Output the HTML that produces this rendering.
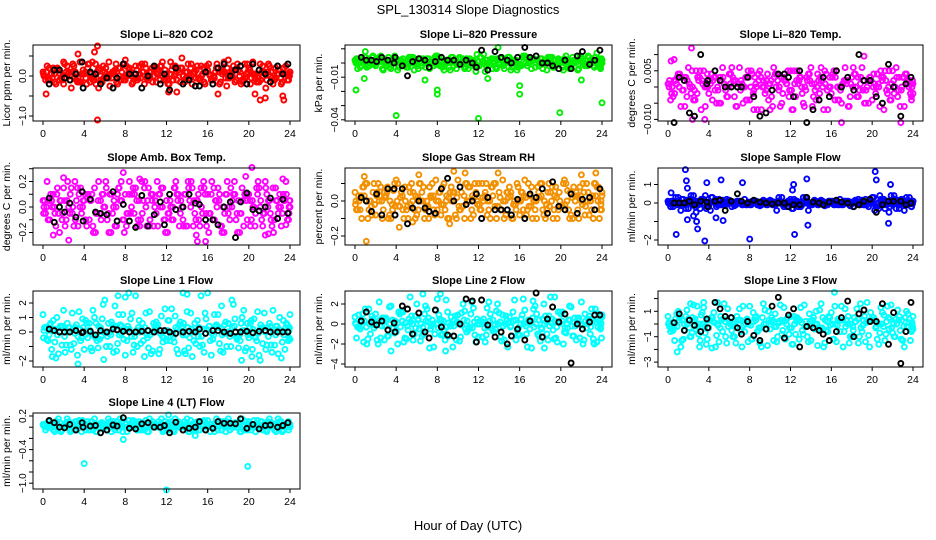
<!DOCTYPE html>
<html><head><meta charset="utf-8">
<style>
html,body{margin:0;padding:0;background:#fff;}
svg{display:block;font-family:"Liberation Sans",Arial,sans-serif;}
</style></head>
<body>
<svg id="chart" width="936" height="540" viewBox="0 0 936 540" xmlns="http://www.w3.org/2000/svg">
<rect width="936" height="540" fill="#fff"/>
<text x="468" y="14" text-anchor="middle" font-size="13">SPL_130314  Slope Diagnostics</text>
<text x="468" y="530" text-anchor="middle" font-size="13">Hour of Day (UTC)</text>
<g id="panels"></g>
</svg>
<script>
// shared hour arrays
const hoursA=[0,0.5,1,1.5,2,2.5,3,3.5,4,4.5,5,5.5,6,6.5,7,7.5,8,8.5,9,9.5,10,10.5,11,11.5,12,12.5,13,13.5,14,14.5,15,15.5,16,16.5,17,17.5,18,18.5,19,19.5,20,20.5,21,21.5,22,22.5,23,23.5,24];
const hoursB=[0.25,0.75,1.25,1.75,2.25,2.75,3.25,3.75,4.25,4.75,5.25,5.75,6.25,6.75,7.25,7.75,8.25,8.75,9.25,9.75,10.25,10.75,11.25,11.75,12.25,12.75,13.25,13.75,14.25,14.75,15.25,15.75,16.25,16.75,17.25,17.75,18.25,18.75,19.25,19.75,20.25,20.75,21.25,21.75,22.25,22.75,23.25,23.75,23.95];
const hoursC=[0.1,0.6,1.1,1.6,2.1,2.6,3.1,3.6,4.1,4.6,5.1,5.6,6.1,6.6,7.1,7.6,8.1,8.6,9.1,9.6,10.1,10.6,11.1,11.6,12.1,12.6,13.1,13.6,14.1,14.6,15.1,15.6,16.1,16.6,17.1,17.6,18.1,18.6,19.1,19.6,20.1,20.6,21.1,21.6,22.1,22.6,23.1,23.6,23.9];
const hoursD=[0.35,0.85,1.35,1.85,2.35,2.85,3.35,3.85,4.35,4.85,5.35,5.85,6.35,6.85,7.35,7.85,8.35,8.85,9.35,9.85,10.35,10.85,11.35,11.85,12.35,12.85,13.35,13.85,14.35,14.85,15.35,15.85,16.35,16.85,17.35,17.85,18.35,18.85,19.35,19.85,20.35,20.85,21.35,21.85,22.35,22.85,23.35,23.85,24];
const hoursE=[0.15,0.65,1.15,1.65,2.15,2.65,3.15,3.65,4.15,4.65,5.15,5.65,6.15,6.65,7.15,7.65,8.15,8.65,9.15,9.65,10.15,10.65,11.15,11.65,12.15,12.65,13.15,13.65,14.15,14.65,15.15,15.65,16.15,16.65,17.15,17.65,18.15,18.65,19.15,19.65,20.15,20.65,21.15,21.65,22.15,22.65,23.15,23.65,23.85];
const hoursF=[0.05,0.4,0.9,1.4,1.9,2.4,2.9,3.4,3.9,4.4,4.9,5.4,5.9,6.4,6.9,7.4,7.9,8.4,8.9,9.4,9.9,10.4,10.9,11.4,11.9,12.4,12.9,13.4,13.9,14.4,14.9,15.4,15.9,16.4,16.9,17.4,17.9,18.4,18.9,19.4,19.9,20.4,20.9,21.4,21.9,22.4,22.9,23.4,23.9];
const blackHours=[0.6,1.1,1.6,2.1,2.6,3.2,3.8,3.9,4.6,5.1,5.6,6.2,6.8,7.2,7.8,8.4,9.0,9.6,10.2,10.8,11.4,11.8,12.3,12.9,13.6,14.2,14.8,15.2,15.8,16.5,17.0,17.6,18.2,18.7,19.2,19.8,20.4,21.0,21.6,22.1,22.8,23.3,23.8];
const xTicks=[0,4,8,12,16,20,24];

// Panel 1 CO2
const co2A=[0.1,-0.1,0.2,0.15,-0.2,0.1,0.25,-0.15,0.05,0.3,-0.1,0.2,0.1,-0.25,0.15,0.2,-0.1,0.1,0.25,-0.05,0.2,0.1,-0.15,0.25,0.05,0.15,-0.1,0.2,0.1,-0.2,0.25,0.05,0.15,-0.1,0.2,0.1,-0.05,0.25,0.15,-0.1,0.2,0.05,-0.15,0.1,0.25,-0.1,0.15,0.05,0.1];
const co2B=[-0.1,0.05,-0.2,-0.05,0.1,-0.3,-0.1,0.05,-0.2,-0.05,0.1,-0.15,0.0,0.1,-0.2,-0.05,0.05,-0.15,-0.05,0.1,-0.1,0.0,0.15,-0.1,-0.2,0.0,0.1,-0.15,-0.05,0.1,-0.1,-0.2,0.0,0.1,-0.15,-0.05,0.05,-0.1,-0.2,0.05,-0.05,-0.15,0.1,-0.1,-0.05,0.05,-0.15,-0.1,0.0];
const co2C=[0.0,0.2,0.05,-0.1,0.3,0.0,-0.05,0.35,0.1,-0.15,0.3,0.0,0.2,0.05,0.3,-0.1,0.25,0.0,0.15,0.3,-0.05,0.2,0.05,0.35,-0.1,0.25,0.2,0.0,0.3,0.05,-0.05,0.2,0.3,0.0,0.1,0.35,-0.05,0.15,0.0,0.3,0.15,-0.05,0.3,0.05,0.0,0.2,-0.05,0.25,0.05];
const co2OutH=[0.3,3.4,5.2,5.3,5.4,5.3,12.2,13.0,13.5,17.0,18.0,20.6,21.1,21.6,23.3,23.4,4.8,5.0,2.0,8.0];
const co2OutV=[-0.45,0.55,0.9,0.75,-0.3,-1.1,-0.4,-0.4,0.45,-0.45,0.4,-0.45,-0.6,-0.55,-0.5,-0.6,0.35,0.6,0.35,0.4];
const co2Black=[-0.2,0.15,0.15,-0.05,-0.1,0.05,0.35,-0.3,0.1,0.05,-0.2,-0.05,-0.3,-0.05,0.3,0.05,0.05,-0.3,0.0,0.25,-0.2,0.05,-0.35,0.2,-0.2,-0.1,-0.25,-0.25,0.1,-0.2,0.2,0.3,0.0,0.15,0.25,-0.2,0.3,0.15,0.05,-0.15,0.25,0.05,0.3];

// Panel 2 Pressure
const presA=[0.002,-0.003,0.004,0.001,-0.002,0.005,0.0,-0.004,0.003,0.002,-0.003,0.004,0.001,-0.002,0.003,0.0,0.005,-0.003,0.002,0.004,-0.001,0.003,-0.004,0.002,0.001,0.006,-0.002,0.003,0.0,-0.004,0.004,0.002,-0.002,0.005,0.001,-0.003,0.003,0.0,0.004,-0.002,0.002,0.005,-0.003,0.001,0.004,-0.001,0.003,0.002,0.0];
const presB=[-0.004,0.003,-0.002,0.005,0.002,-0.005,0.004,0.002,-0.003,0.0,0.004,-0.005,0.003,0.002,-0.004,0.004,-0.002,0.002,-0.005,0.0,0.003,-0.003,0.002,-0.006,0.004,-0.002,0.003,-0.004,0.004,0.002,-0.003,-0.005,0.004,-0.002,0.003,0.002,-0.004,0.004,-0.003,0.003,-0.005,0.0,0.002,-0.004,0.0,0.004,-0.003,-0.002,0.003];
const presC=[0.0,0.001,0.0,-0.001,0.003,0.001,-0.002,0.001,0.0,-0.001,0.001,0.0,-0.002,0.003,0.0,0.001,-0.001,0.0,0.001,-0.002,0.0,0.001,0.0,0.001,-0.002,0.0,0.001,0.0,-0.001,0.001,0.0,0.001,-0.001,0.0,0.001,0.0,-0.001,0.001,0.0,0.0,0.001,-0.001,0.0,0.001,0.0,-0.002,0.001,0.0,0.001];
const presOutH=[0.1,0.9,4.0,8.0,8.0,12.0,12.9,16.0,16.0,19.9,24.0,1.0,6.8,13.9,22.0,23.5];
const presOutV=[-0.019,-0.011,-0.037,-0.019,-0.022,-0.039,-0.011,-0.016,-0.022,-0.035,-0.028,0.008,-0.012,0.011,-0.012,0.007];
const presBlack=[0.004,0.002,0.002,0.001,0.004,0.002,0.0,0.004,-0.002,-0.009,0.001,0.003,0.002,-0.003,0.001,0.004,0.002,0.002,-0.001,0.002,0.0,-0.003,0.009,-0.005,0.008,0.004,0.002,0.0,0.004,0.011,0.004,0.005,0.0,0.0,-0.002,-0.004,0.002,-0.004,0.005,0.008,-0.001,0.002,0.009];

// Panel 3 Li-820 Temp
const ltA=[0.001,-0.003,0.004,-0.001,0.006,-0.004,0.002,0.005,-0.002,0.003,-0.005,0.001,0.004,-0.003,0.006,0.0,-0.004,0.003,0.005,-0.002,0.001,0.004,-0.006,0.002,0.005,-0.003,0.003,-0.001,0.006,-0.004,0.002,0.004,-0.002,0.005,-0.005,0.001,0.003,-0.003,0.006,0.0,-0.004,0.004,0.002,-0.002,0.005,-0.003,0.003,0.001,-0.002];
const ltB=[-0.004,0.002,-0.006,0.003,-0.002,0.005,-0.007,0.0,0.004,-0.005,0.002,-0.003,0.006,-0.006,0.001,-0.004,0.004,-0.007,0.0,0.004,-0.006,0.002,-0.002,0.005,-0.007,0.001,-0.005,0.004,-0.003,0.002,-0.007,0.0,0.005,-0.004,0.002,-0.006,0.004,-0.001,-0.005,0.003,0.001,-0.006,0.005,-0.004,0.0,-0.006,0.004,-0.002,0.002];
const ltC=[0.0,0.002,0.0,0.003,0.001,-0.001,0.003,0.0,0.002,-0.001,0.003,0.0,0.001,0.002,-0.001,0.003,0.0,0.001,0.003,-0.001,0.002,0.0,0.003,0.001,-0.001,0.002,0.0,0.003,0.001,0.0,0.002,-0.001,0.003,0.0,0.001,0.002,0.0,0.003,-0.001,0.002,0.0,0.001,0.003,0.0,0.002,-0.001,0.003,0.0,0.001];
const ltOutH=[0.3,0.6,2.3,2.4,19.2,17.0,22.8,3.6,15.0,10.0,8.4];
const ltOutV=[0.008,0.0085,0.012,-0.01,0.0095,-0.011,-0.011,-0.01,0.006,-0.007,-0.007];
const ltBlack=[-0.011,0.003,0.002,-0.008,-0.009,0.01,0.001,0.002,0.005,0.002,0.0,0.0,0.0,0.0,0.003,-0.003,-0.009,-0.008,-0.001,0.004,0.004,0.003,-0.003,0.005,-0.011,-0.007,-0.004,0.003,-0.003,0.005,0.0,0.003,-0.001,0.01,0.002,0.002,-0.003,-0.005,0.007,0.0,-0.009,0.001,0.003];

// Panel 4 Amb. Box Temp
const abA=[0.05,-0.1,0.1,-0.05,0.15,0.0,-0.15,0.1,0.05,-0.1,0.15,-0.05,0.0,0.1,-0.15,0.05,0.1,-0.05,0.15,-0.1,0.0,0.1,-0.05,0.15,0.05,-0.1,0.1,0.0,-0.15,0.15,0.05,-0.05,0.1,-0.1,0.15,0.0,-0.05,0.1,0.05,-0.15,0.1,0.0,0.15,-0.05,0.05,-0.1,0.1,0.05,0.0];
const abB=[-0.05,0.1,-0.15,0.05,-0.1,0.15,0.05,-0.05,-0.15,0.1,-0.05,0.1,-0.1,-0.05,0.1,-0.1,-0.05,0.15,-0.1,0.05,0.15,-0.15,0.1,-0.1,-0.05,0.15,-0.15,0.1,0.05,-0.05,-0.15,0.1,-0.05,0.05,-0.15,0.1,0.15,-0.1,-0.05,0.05,-0.1,0.15,-0.1,0.1,-0.15,0.05,-0.05,-0.1,0.05];
const abC=[0.0,0.05,0.0,-0.2,0.05,-0.05,0.2,0.0,0.1,0.05,-0.2,0.05,0.2,-0.2,0.0,0.2,-0.15,0.0,0.05,0.2,-0.15,0.05,0.2,0.0,-0.2,0.0,0.05,-0.1,0.2,-0.15,0.1,0.2,-0.2,0.15,0.05,-0.2,0.0,0.2,-0.2,0.1,0.05,-0.15,0.0,0.2,-0.05,0.15,0.0,0.2,-0.05];
const abOutH=[1.0,2.0,2.5,7.8,9.4,14.9,15.0,15.8,19.7,20.3,21.6,21.9,23.3,23.6];
const abOutV=[-0.22,0.23,-0.26,0.27,0.22,-0.22,-0.27,-0.27,0.24,0.31,-0.22,-0.21,0.22,-0.14];
const abBlack=[0.07,-0.12,0.0,-0.04,0.03,-0.08,0.12,-0.11,0.06,-0.04,-0.05,-0.06,0.12,-0.11,0.02,-0.11,-0.16,0.09,-0.15,-0.06,0.04,-0.14,0.1,-0.02,0.0,0.1,0.03,0.02,-0.1,-0.1,-0.14,0.0,0.04,-0.24,0.04,0.11,-0.02,-0.03,0.0,0.07,-0.09,0.06,-0.05];

// Panel 5 Gas Stream RH
const rhA=[0.05,-0.05,0.1,0.0,-0.08,0.08,0.03,-0.1,0.12,0.05,-0.05,0.1,-0.08,0.05,0.0,0.1,-0.05,0.08,-0.1,0.05,0.12,-0.03,0.08,-0.08,0.1,0.0,-0.05,0.1,0.05,-0.1,0.08,0.0,-0.08,0.12,0.03,-0.05,0.1,-0.1,0.05,0.08,-0.03,0.1,-0.08,0.05,0.0,0.1,-0.05,0.08,0.03];
const rhB=[-0.05,0.08,-0.1,0.05,0.1,-0.05,-0.1,0.06,-0.03,-0.1,0.08,-0.05,0.1,-0.1,0.08,-0.08,0.05,-0.05,0.05,-0.08,-0.05,0.1,-0.1,0.05,-0.05,0.1,0.08,-0.1,-0.05,0.05,-0.1,0.1,0.05,-0.05,-0.1,0.08,-0.05,0.05,-0.1,-0.05,0.1,-0.05,0.08,-0.1,0.05,-0.08,0.1,-0.1,-0.05];
const rhC=[0.0,0.03,0.0,-0.03,0.03,0.0,0.05,-0.02,0.0,0.03,-0.03,0.0,0.02,0.0,-0.03,0.03,0.0,-0.02,0.02,0.0,-0.03,0.03,0.0,0.02,-0.02,0.03,0.0,-0.03,0.02,0.0,0.03,-0.02,0.0,0.02,-0.03,0.0,0.03,-0.02,0.0,0.02,-0.03,0.0,0.02,0.03,-0.02,0.0,0.03,0.0,-0.02];
const rhOutH=[1.1,0.9,6.2,9.6,10.7,13.9,22.0,23.4,4.3,5.6,9.2];
const rhOutV=[-0.23,0.14,0.15,0.17,0.16,0.16,0.15,0.16,-0.15,-0.12,-0.13];
const rhBlack=[0.02,0.0,-0.06,0.04,-0.08,0.07,0.07,-0.08,0.07,-0.13,-0.04,0.0,-0.04,-0.06,-0.07,0.07,0.13,0.0,0.08,-0.02,0.0,0.04,-0.1,0.02,-0.05,-0.05,-0.05,-0.08,0.01,-0.1,0.04,0.02,0.07,-0.07,0.11,-0.03,-0.05,0.04,-0.07,0.01,0.02,-0.05,0.07];

// Panel 6 Sample Flow
const sfA=[0.1,-0.2,0.3,0.2,-0.3,0.4,-0.1,0.2,-0.2,0.1,0.2,-0.1,0.15,-0.15,0.1,0.2,-0.1,0.1,-0.15,0.1,0.15,-0.1,0.1,-0.1,0.2,0.1,-0.2,0.3,-0.1,0.1,0.15,-0.1,0.1,0.05,-0.1,0.1,-0.05,0.1,0.15,-0.1,0.3,-0.2,0.2,0.1,-0.1,0.15,0.2,-0.1,0.1];
const sfB=[-0.2,0.3,-0.4,-0.3,0.4,-0.5,0.2,-0.3,0.3,-0.2,-0.1,0.2,-0.2,0.1,-0.1,-0.1,0.1,-0.1,0.1,-0.1,-0.1,0.1,-0.1,0.1,-0.3,-0.2,0.3,-0.4,0.1,-0.1,-0.1,0.1,-0.1,-0.1,0.1,-0.1,0.1,-0.1,-0.1,0.2,-0.4,0.4,-0.3,-0.2,0.2,-0.1,-0.1,0.1,-0.05];
const sfC=[0.0,0.05,0.0,-0.05,0.0,0.05,0.0,-0.05,0.05,0.0,-0.05,0.0,0.05,0.0,0.0,-0.05,0.05,0.0,0.0,0.05,-0.05,0.0,0.05,0.0,0.0,-0.05,0.0,0.05,0.0,-0.05,0.0,0.05,0.0,-0.05,0.0,0.05,0.0,0.0,-0.05,0.05,0.0,0.0,0.05,-0.05,0.0,0.0,0.05,-0.05,0.0];
const sfOutH=[0.3,0.8,1.7,1.8,1.9,3.6,3.8,2.8,2.9,5.2,5.4,4.7,7.3,8.0,12.3,12.2,13.6,13.7,12.4,20.3,20.4,21.6,21.8,1.9,2.5];
const sfOutV=[0.55,-1.7,1.8,1.2,0.8,-2.05,1.1,-1.0,-1.4,1.25,-0.95,-0.8,1.1,-1.95,1.0,0.7,1.3,-1.2,-1.7,1.7,1.25,-1.1,1.0,-0.9,-0.7];
const sfBlack=[0.0,0.0,0.0,0.1,-0.1,0.1,0.05,-0.2,0.1,0.15,-0.4,0.1,0.5,0.1,0.0,0.15,0.05,0.0,-0.05,0.0,0.0,-0.2,-0.1,-0.1,0.3,0.05,0.0,-0.1,0.05,0.15,0.05,0.0,-0.2,-0.1,0.1,0.2,-0.5,-0.1,0.1,0.1,0.1,-0.1,0.0];

// Panel 7 Line 1 Flow
const l1A=[1.2,-0.6,0.8,-1.5,1.5,0.3,-0.8,1.4,-1.2,0.6,1.0,-0.5,2.2,-1.0,1.8,0.5,-1.6,0.9,2.5,-0.8,1.3,-1.5,0.7,1.1,-0.6,1.6,-1.2,0.4,1.4,-1.7,0.8,-0.9,2.7,-0.5,1.2,-1.4,0.6,1.9,-1.1,1.5,-0.4,0.9,-1.6,1.3,0.6,-0.9,1.0,-1.2,-0.5];
const l1B=[0.3,0.6,-1.8,0.4,-0.9,-1.2,0.5,-0.4,0.6,-1.3,-0.6,0.9,-0.3,0.5,-0.8,1.2,0.4,-1.4,0.3,-0.6,-1.1,0.6,-1.5,-0.4,0.8,-0.7,0.5,-1.3,-0.4,0.6,-1.0,1.3,-0.6,0.4,-1.3,0.7,-1.0,-0.3,0.6,-1.1,0.8,-0.6,0.3,-0.9,-1.4,0.4,-0.7,0.5,0.3];
const l1C=[0.1,-0.2,0.2,0.0,-0.3,0.3,-0.1,0.2,-0.2,0.1,-0.4,0.3,0.0,-0.2,0.4,-0.1,0.2,-0.3,0.1,0.2,-0.2,0.0,0.3,-0.3,0.1,-0.1,0.2,-0.2,0.3,0.0,-0.3,0.2,0.1,-0.2,0.3,-0.1,0.0,0.4,-0.2,0.1,0.3,-0.3,0.2,0.0,0.4,-0.2,0.1,0.3,-0.4];
const l1OutH=[3.4,0.9,5.9,7.3,8.0,13.6,14.0,19.3,21.1,20.3];
const l1OutV=[-2.2,-1.7,-1.9,2.5,2.4,2.7,2.6,-1.95,-1.95,-1.7];
const l1Black=[0.2,0.1,0.0,0.0,0.0,0.1,-0.05,0.0,0.05,-0.2,0.1,0.0,0.2,0.15,0.05,0.0,0.0,0.05,0.1,0.0,0.1,0.1,0.0,-0.1,0.0,0.05,0.0,0.2,-0.1,0.1,0.1,0.0,-0.1,0.0,0.0,0.05,-0.05,0.05,0.1,0.0,0.0,0.0,0.0];

// Panel 8 Line 2 Flow
const l2A=[0.7,-0.5,1.5,-1.0,1.0,-1.4,0.6,1.8,-0.8,1.2,-1.5,0.8,2.0,-1.2,1.5,0.4,2.5,-1.0,1.2,-2.3,0.9,2.0,-0.6,1.6,-1.3,0.5,2.2,-0.8,1.1,-1.6,0.7,2.4,-1.1,1.4,-0.5,1.8,-1.7,0.8,2.7,-1.4,1.0,-0.9,1.7,-1.6,2.2,-0.4,1.5,-1.8,0.9];
const l2B=[-0.3,1.0,-1.5,0.5,-2.0,0.6,-1.2,-0.4,1.2,-1.8,0.5,-1.0,-0.5,1.0,-2.4,-1.0,0.5,-1.6,-0.2,0.8,-1.3,-0.5,1.0,-1.8,0.3,-1.1,-0.4,1.3,-1.7,0.4,-1.2,-0.6,0.9,-2.3,0.6,-1.0,0.5,-1.6,-0.6,1.2,-2.0,0.4,-1.2,0.6,-1.6,0.8,-2.0,0.3,-1.4];
const l2C=[0.0,0.2,-0.3,0.3,0.0,-0.2,0.4,-0.4,0.1,0.3,-0.2,0.0,0.4,-0.3,0.2,0.0,-0.4,0.3,0.1,-0.2,0.0,0.4,-0.3,0.2,0.0,-0.4,0.3,-0.1,0.2,0.0,-0.3,0.4,0.0,-0.2,0.3,0.0,-0.4,0.2,0.1,-0.3,0.3,0.0,-0.2,0.4,-0.1,0.0,0.3,-0.3,0.1];
const l2OutH=[8.3,6.6,3.5,8.8,18.4,19.4,17.3,23.2];
const l2OutV=[3.0,3.0,-2.7,-2.7,-2.4,2.7,2.3,-1.9];
const l2Black=[0.3,1.2,0.2,-0.1,0.3,-0.6,0.1,-0.8,1.8,1.5,-1.0,1.1,-0.8,-1.4,1.4,-0.3,-1.1,-1.2,0.0,2.5,2.3,-1.8,2.4,-0.1,-1.3,-0.8,-2.0,-1.2,-0.5,-1.6,0.3,3.1,-1.3,0.5,1.7,0.2,1.0,-3.9,0.0,-0.5,0.2,0.9,0.9];

// Panel 9 Line 3 Flow
const l3A=[0.6,-0.5,1.0,-1.2,0.4,1.5,-0.8,1.3,-0.3,0.9,-1.4,1.6,0.2,-1.0,1.2,-0.6,1.4,0.5,-1.5,1.1,-0.4,0.8,1.5,-1.2,0.6,-0.8,1.3,0.2,-1.3,1.0,1.6,-0.5,0.9,-1.4,1.4,0.3,-1.0,1.2,-0.6,1.7,0.5,-1.2,0.9,1.4,-0.7,1.1,-1.3,0.8,-0.4];
const l3B=[-0.6,0.4,-1.8,0.6,-1.0,-0.4,0.7,-1.6,0.5,-0.9,0.3,-1.5,-0.5,0.6,-1.8,0.4,-1.2,-0.6,0.5,-1.7,0.3,-1.0,-0.5,0.5,-1.6,0.4,-0.8,-1.4,0.5,-0.4,-1.8,0.6,-1.2,0.3,-0.6,-1.5,0.5,-1.0,0.6,-1.8,0.3,-0.7,-1.3,0.4,-1.0,-0.5,0.5,-1.3,-0.2];
const l3C=[0.1,-0.2,0.3,0.0,-0.3,0.2,0.0,-0.2,0.3,0.1,-0.3,0.2,0.0,-0.2,0.3,0.0,-0.1,0.3,-0.3,0.0,0.2,-0.2,0.3,0.0,-0.3,0.2,0.1,-0.2,0.3,0.0,-0.3,0.2,0.0,-0.1,0.3,0.0,-0.2,0.4,-0.1,0.2,0.3,0.0,-0.2,0.5,0.0,0.3,-0.2,0.1,0.0];
const l3OutH=[0.9,3.1,4.3,16.3,2.2,3.5];
const l3OutV=[-2.2,-1.8,-1.9,2.5,1.6,1.7];
const l3Black=[0.1,0.8,-0.5,0.3,-0.1,-0.6,0.4,-0.3,1.7,1.2,0.6,0.5,-0.3,-0.8,0.2,-0.9,-1.3,-0.4,1.4,2.1,-1.1,0.7,1.2,-1.8,-0.2,-0.3,-0.5,-0.8,-1.3,-0.6,0.5,1.8,-1.0,0.8,1.1,0.2,0.2,1.6,-1.6,0.9,-3.1,-0.6,1.7];

// Panel 10 Line 4 (LT) Flow
const l4A=[0.05,0.1,-0.05,0.15,0.0,0.1,-0.05,0.12,0.05,-0.05,0.15,0.05,0.0,0.1,-0.05,0.15,0.05,0.0,0.1,-0.05,0.12,0.05,0.0,0.15,-0.05,0.1,0.05,0.0,0.15,-0.05,0.1,0.05,0.12,0.0,-0.05,0.1,0.15,0.0,0.05,-0.05,0.1,0.12,0.0,0.05,0.15,-0.05,0.1,0.05,0.0];
const l4B=[-0.05,0.0,0.1,-0.08,0.08,-0.05,0.1,-0.08,0.0,0.1,-0.08,0.08,-0.05,0.0,0.1,-0.08,0.0,0.12,-0.05,0.08,-0.08,0.0,0.1,-0.05,0.08,-0.08,0.0,0.1,-0.08,0.05,-0.05,0.1,-0.08,0.08,0.1,-0.08,0.0,0.08,-0.08,0.1,-0.05,0.0,0.1,-0.08,0.0,0.08,-0.08,0.0,0.05];
const l4C=[0.02,0.05,0.03,0.0,0.05,0.02,0.04,0.0,0.06,0.03,0.0,0.05,0.02,0.04,0.02,0.0,0.06,0.03,0.02,0.04,0.0,0.06,0.02,0.04,0.03,0.0,0.05,0.02,0.0,0.06,0.03,0.02,0.0,0.05,0.03,0.02,0.06,0.0,0.04,0.02,0.05,0.0,0.03,0.06,0.02,0.04,0.0,0.05,0.03];
const l4OutH=[4.0,12.0,19.9,7.8,14.8,12.2];
const l4OutV=[-0.65,-1.12,-0.7,-0.22,-0.15,0.22];
const l4Black=[0.12,0.08,0.0,-0.01,0.05,-0.05,0.08,0.0,0.02,0.03,-0.1,-0.05,0.04,0.02,0.17,-0.02,-0.03,0.06,0.08,0.0,0.0,0.03,-0.1,0.09,-0.05,-0.02,0.0,0.1,-0.05,-0.02,0.1,0.07,0.07,0.06,0.15,-0.02,0.05,-0.03,0.03,0.04,0.0,0.03,0.08];

// layout (not data)
const NS="http://www.w3.org/2000/svg";
const cols=[{l:33,r:300},{l:345,r:612},{l:658,r:923}];
const rows=[{t:45,b:121},{t:168,b:245},{t:291,b:367},{t:413,b:489}];
const panels=[
 {id:"co2",title:"Slope Li–820 CO2",ylab:"Licor ppm per min.",c:0,r:0,col:"#ff0000",y0:76,k:40,ticks:[0.5,0,-0.5,-1],labs:{"0":"0.0","-1":"−1.0"},A:co2A,B:co2B,C:co2C,OH:co2OutH,OV:co2OutV,K:co2Black},
 {id:"pressure",title:"Slope Li–820 Pressure",ylab:"kPa per min.",c:1,r:0,col:"#00ee00",y0:63,k:1420,ticks:[0.01,0,-0.01,-0.02,-0.03,-0.04],labs:{"-0.01":"−0.01","-0.04":"−0.04"},A:presA,B:presB,C:presC,OH:presOutH,OV:presOutV,K:presBlack},
 {id:"li820-temp",title:"Slope Li–820 Temp.",ylab:"degrees C per min.",c:2,r:0,col:"#ff00ff",y0:87,k:3240,ticks:[0.01,0.005,0,-0.005,-0.01],labs:{"0.005":"0.005","-0.01":"−0.010"},A:ltA,B:ltB,C:ltC,OH:ltOutH,OV:ltOutV,K:ltBlack},
 {id:"amb-box-temp",title:"Slope Amb. Box Temp.",ylab:"degrees C per min.",c:0,r:1,col:"#ff00ff",y0:207,k:127.5,ticks:[0.3,0.2,0.1,0,-0.1,-0.2],labs:{"0.2":"0.2","0":"0.0","-0.2":"−0.2"},A:abA,B:abB,C:abC,OH:abOutH,OV:abOutV,K:abBlack},
 {id:"gas-stream-rh",title:"Slope Gas Stream RH",ylab:"percent per min.",c:1,r:1,col:"#f29000",y0:201,k:175,ticks:[0.1,0,-0.1,-0.2],labs:{"0":"0.0","-0.2":"−0.2"},A:rhA,B:rhB,C:rhC,OH:rhOutH,OV:rhOutV,K:rhBlack},
 {id:"sample-flow",title:"Slope Sample Flow",ylab:"ml/min per min.",c:2,r:1,col:"#0000ff",y0:203,k:18.5,ticks:[1,0,-1,-2],labs:{"1":"1","0":"0","-2":"−2"},A:sfA,B:sfB,C:sfC,OH:sfOutH,OV:sfOutV,K:sfBlack},
 {id:"line1-flow",title:"Slope Line 1 Flow",ylab:"ml/min per min.",c:0,r:2,col:"#00ffff",y0:332,k:14.5,ticks:[2,1,0,-1,-2],labs:{"2":"2","1":"1","0":"0","-2":"−2"},A:l1A,B:l1B,C:l1C,OH:l1OutH,OV:l1OutV,K:l1Black},
 {id:"line2-flow",title:"Slope Line 2 Flow",ylab:"ml/min per min.",c:1,r:2,col:"#00ffff",y0:324,k:10,ticks:[2,0,-2,-4],labs:{"2":"2","0":"0","-2":"−2","-4":"−4"},A:l2A,B:l2B,C:l2C,OH:l2OutH,OV:l2OutV,K:l2Black},
 {id:"line3-flow",title:"Slope Line 3 Flow",ylab:"ml/min per min.",c:2,r:2,col:"#00ffff",y0:324,k:12.7,ticks:[2,1,0,-1,-2,-3],labs:{"1":"1","-1":"−1","-3":"−3"},A:l3A,B:l3B,C:l3C,OH:l3OutH,OV:l3OutV,K:l3Black},
 {id:"line4-flow",title:"Slope Line 4 (LT) Flow",ylab:"ml/min per min.",c:0,r:3,col:"#00ffff",y0:427.2,k:56,ticks:[0.2,0,-0.2,-0.4,-0.6,-0.8,-1],labs:{"0.2":"0.2","-0.4":"−0.4","-1":"−1.0"},A:l4A,B:l4B,C:l4C,OH:l4OutH,OV:l4OutV,K:l4Black}
];

function mk(tag,attrs,parent){const e=document.createElementNS(NS,tag);for(const a in attrs)e.setAttribute(a,attrs[a]);parent.appendChild(e);return e;}
const root=document.getElementById("panels");

panels.forEach(p=>{
  const C=cols[p.c],R=rows[p.r];
  const xs=h=>C.l+10+(h/24)*(C.r-C.l-20);
  const ys=v=>p.y0-v*p.k;
  const g=mk("g",{},root);
  
  
  const t=mk("text",{x:(C.l+C.r)/2,y:R.t-7,"text-anchor":"middle","font-size":"11","font-weight":"bold"},g);
  t.textContent=p.title;
  
  
  const yl=mk("text",{transform:`translate(${C.l-23},${(R.t+R.b)/2}) rotate(-90)`,"text-anchor":"middle","font-size":"10.5"},g);
  yl.textContent=p.ylab;
  
  
  // points
  const pts=mk("g",{fill:"none","stroke-width":"1.9"},g);
  
  
  const dot=(h,v,col,name)=>{
    const y=ys(v);
    if(y<R.t-2||y>R.b+2)return;
    const c=mk("circle",{cx:xs(h).toFixed(1),cy:y.toFixed(1),r:"2.5",stroke:col},pts);
    
    
  };
  // each core series drawn forward at one hour grid and reversed at a second grid
  [[hoursA,hoursD,p.A],[hoursB,hoursE,p.B],[hoursC,hoursF,p.C]].forEach(([H1,H2,V])=>{
    const n=Math.min(H1.length,V.length);
    for(let i=0;i<n;i++)dot(H1[i],V[i],p.col,p.id+'-point');
    for(let i=0;i<n;i++)dot(H2[i],V[n-1-i],p.col,p.id+'-point');
  });
  const no=Math.min(p.OH.length,p.OV.length);
  for(let i=0;i<no;i++)dot(p.OH[i],p.OV[i],p.col,p.id+'-outlier-point');
  const nb=Math.min(blackHours.length,p.K.length);
  for(let i=0;i<nb;i++)dot(blackHours[i],p.K[i],"#000",p.id+'-flagged-point');
  // box
  const bx=mk("rect",{x:C.l,y:R.t,width:C.r-C.l,height:R.b-R.t,fill:"none",stroke:"#000","stroke-width":"1"},g);
  
  
  // x axis
  const xa=mk("g",{stroke:"#000","stroke-width":"1"},g);
  
  
  xTicks.forEach(h=>{
    mk("line",{x1:xs(h),x2:xs(h),y1:R.b,y2:R.b+4},xa);
    const tl=mk("text",{x:xs(h),y:R.b+16,"text-anchor":"middle","font-size":"10.5",stroke:"none",fill:"#000"},xa);
    tl.textContent=String(h);
    
    
  });
  // y axis
  const ya=mk("g",{stroke:"#000","stroke-width":"1"},g);
  
  
  p.ticks.forEach(v=>{
    const y=ys(v);
    mk("line",{x1:C.l-4,x2:C.l,y1:y,y2:y},ya);
    const key=String(v);
    if(p.labs[key]!==undefined){
      const tl=mk("text",{transform:`translate(${C.l-7},${y}) rotate(-90)`,"text-anchor":"middle","font-size":"10",stroke:"none",fill:"#000"},ya);
      tl.textContent=p.labs[key];
      
      
    }
  });
});
</script>
</body></html>
